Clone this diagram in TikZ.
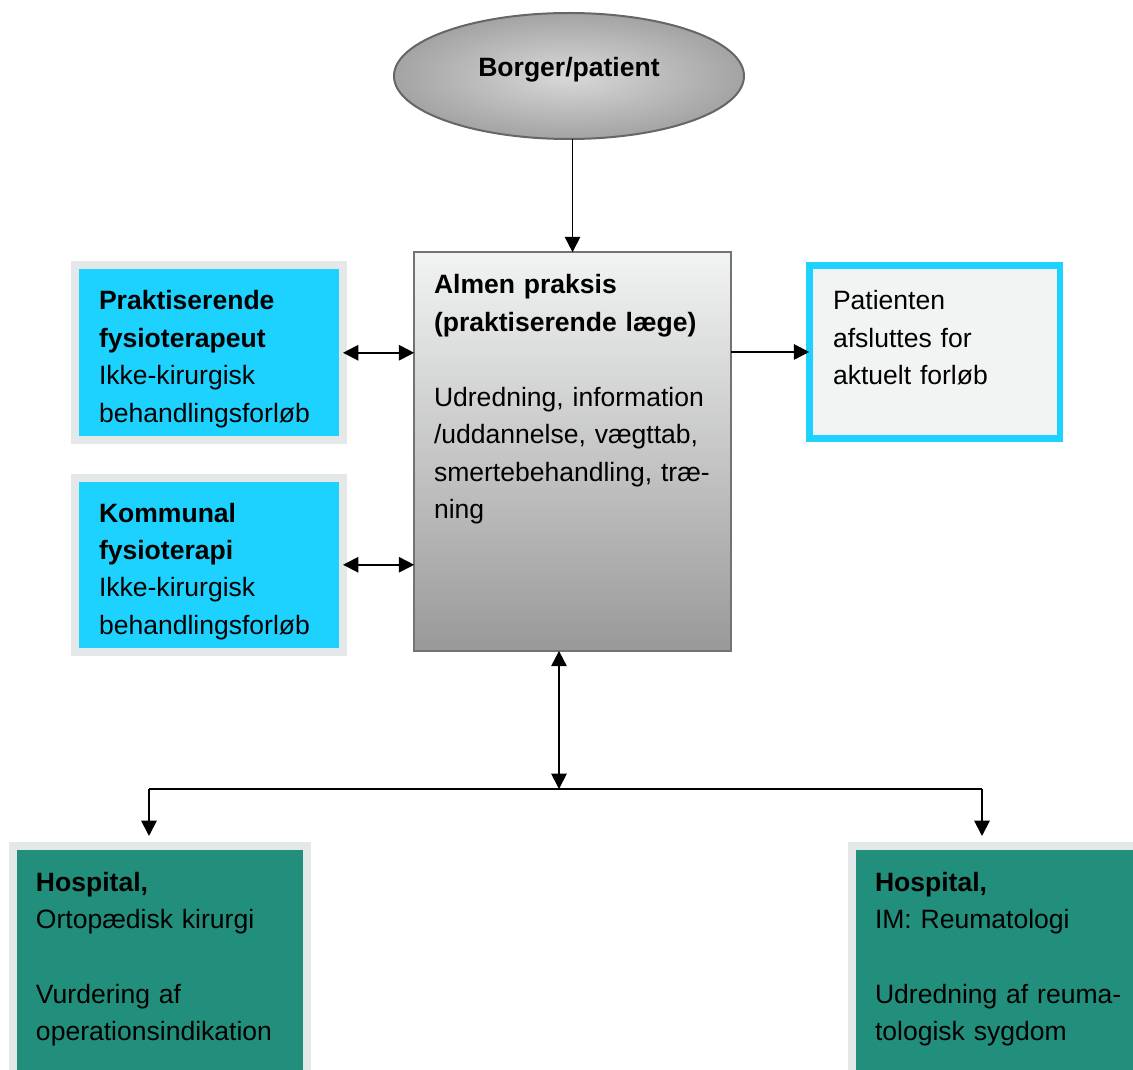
\documentclass[tikz,border=0pt]{standalone}
\usepackage{fontspec}
\setmainfont{Liberation Sans}
\usetikzlibrary{arrows.meta,shapes.geometric}
\definecolor{boxcyan}{HTML}{1ED2FF}
\definecolor{framegray}{HTML}{E5E8E8}
\definecolor{hospteal}{HTML}{228F7D}
\definecolor{palefill}{HTML}{F2F4F3}
\begin{document}
\begin{tikzpicture}
[x=0.75pt,y=-0.75pt,line width=1.4pt,%
  >={Triangle[length=11.5pt,width=11.5pt]},%
  every node/.style={inner sep=0pt,outer sep=0pt},%
  framed/.style={draw=framegray,line width=6pt,anchor=north west},%
  cyanbox/.style={framed,fill=boxcyan,minimum width=201pt,minimum height=130.9pt},%
  tealbox/.style={framed,fill=hospteal,minimum height=174pt},%
  txt/.style={anchor=base west,align=left,text width=#1}]
\fontsize{19.9pt}{28.1pt}\selectfont
\useasboundingbox (0,0) rectangle (1133,1070);
\node[ellipse,draw=black!60,line width=1.5pt,inner color=black!15,outer color=black!36,%
  minimum width=262.5pt,minimum height=94.5pt,text height=14.5pt,text depth=14pt]
  (borger) at (569,76) {\textbf{Borger/patient}};
\node[anchor=north west,draw=black!55,line width=1.8pt,top color=palefill,bottom color=black!40,%
  minimum width=237.5pt,minimum height=299pt] (almen) at (414.2,252.2) {};
\node[txt=230pt] (almentxt) at (434,294)
  {\textbf{Almen praksis}\\\textbf{(praktiserende læge)}\\[28.1pt]Udredning, information\\/uddannelse, vægttab,\\smertebehandling, træ-\\ning};
\node[cyanbox] (praks) at (75,265.5) {};
\node[txt=230pt] (prakstxt) at (99,310)
  {\textbf{Praktiserende}\\\textbf{fysioterapeut}\\Ikke-kirurgisk\\behandlingsforløb};
\node[cyanbox] (kommune) at (75,477.5) {};
\node[txt=230pt] (kommunetxt) at (99,522)
  {\textbf{Kommunal}\\\textbf{fysioterapi}\\Ikke-kirurgisk\\behandlingsforløb};
\node[anchor=north west,draw=boxcyan,line width=4.9pt,fill=palefill,%
  minimum width=187.9pt,minimum height=130.1pt] (afslut) at (809.25,265.25) {};
\node[txt=180pt] (afsluttxt) at (833,310)
  {Patienten\\afsluttes for\\aktuelt forløb};
\node[tealbox,minimum width=220.5pt] (hospleft) at (13,846) {};
\node[txt=220pt] (hosplefttxt) at (36,891)
  {\textbf{Hospital,}\\Ortopædisk kirurgi\\[28.1pt]Vurdering af\\operationsindikation};
\node[tealbox,minimum width=225pt] (hospright) at (851.5,846) {};
\node[txt=220pt] (hosprighttxt) at (875,891)
  {\textbf{Hospital,}\\IM: Reumatologi\\[28.1pt]Udredning af reuma-\\tologisk sygdom};
\coordinate (split) at (559,789);
\coordinate (lefthook) at (149,789);
\coordinate (righthook) at (982,789);
\draw[->] (borger.south -| almen.north) -- (almen.north);
\draw[<->] (praks.east) -- (praks.east -| almen.west);
\draw[<->] (kommune.east) -- (kommune.east -| almen.west);
\draw[->] (afslut.west -| almen.east) -- (afslut.west);
\draw[<->] (split |- almen.south) -- (split);
\draw (lefthook) -- (righthook);
\draw[->,shorten >=7.5pt] (lefthook) -- (lefthook |- hospleft.north);
\draw[->,shorten >=7.5pt] (righthook) -- (righthook |- hospright.north);
\end{tikzpicture}
\end{document}
